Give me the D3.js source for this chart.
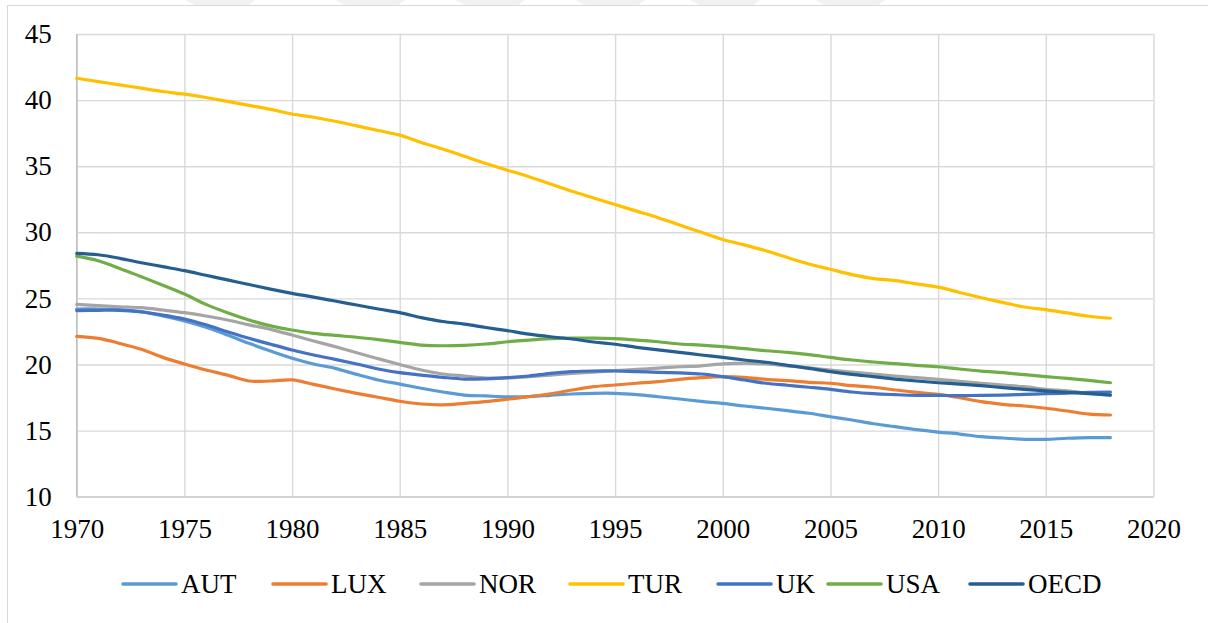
<!DOCTYPE html>
<html>
<head>
<meta charset="utf-8">
<script src="https://cdn.jsdelivr.net/npm/d3@7"></script>
<style>
  html, body { margin: 0; padding: 0; background: #fff; }
  svg { display: block; }
  svg text { font-family: "Times New Roman", "Liberation Serif", "DejaVu Serif", serif; }
</style>
</head>
<body>
<div id="chart"></div>
<script>
const years = [1970, 1971, 1972, 1973, 1974, 1975, 1976, 1977, 1978, 1979,
    1980, 1981, 1982, 1983, 1984, 1985, 1986, 1987, 1988, 1989,
    1990, 1991, 1992, 1993, 1994, 1995, 1996, 1997, 1998, 1999,
    2000, 2001, 2002, 2003, 2004, 2005, 2006, 2007, 2008, 2009,
    2010, 2011, 2012, 2013, 2014, 2015, 2016, 2017, 2018];

const xTicks = [1970, 1975, 1980, 1985, 1990, 1995, 2000, 2005, 2010, 2015, 2020];
const yTicks = [10, 15, 20, 25, 30, 35, 40, 45];

const AUT = [24.2, 24.2, 24.15, 24.0, 23.67, 23.29, 22.81, 22.23, 21.6, 21.02,
    20.47, 20.04, 19.71, 19.25, 18.83, 18.52, 18.2, 17.92, 17.69, 17.62,
    17.56, 17.58, 17.67, 17.77, 17.82, 17.82, 17.72, 17.56, 17.39, 17.21,
    17.06, 16.86, 16.69, 16.51, 16.31, 16.05, 15.8, 15.52, 15.3, 15.07,
    14.89, 14.74, 14.54, 14.44, 14.34, 14.34, 14.42, 14.47, 14.47];
const LUX = [22.13, 21.98, 21.6, 21.15, 20.54, 20.04, 19.58, 19.2, 18.75, 18.75,
    18.83, 18.5, 18.15, 17.82, 17.52, 17.22, 17.01, 16.95, 17.06, 17.19,
    17.37, 17.56, 17.79, 18.07, 18.32, 18.45, 18.58, 18.7, 18.88, 19.0,
    19.08, 19.03, 18.88, 18.78, 18.65, 18.58, 18.4, 18.28, 18.07, 17.9,
    17.74, 17.49, 17.19, 16.99, 16.86, 16.69, 16.48, 16.25, 16.18];
const NOR = [24.55, 24.45, 24.37, 24.3, 24.12, 23.92, 23.67, 23.37, 23.0, 22.66,
    22.23, 21.78, 21.35, 20.89, 20.44, 20.0, 19.58, 19.28, 19.13, 18.98,
    18.98, 19.08, 19.2, 19.33, 19.43, 19.53, 19.63, 19.73, 19.83, 19.9,
    20.04, 20.11, 20.04, 19.89, 19.75, 19.58, 19.43, 19.28, 19.13, 19.0,
    18.88, 18.73, 18.58, 18.45, 18.32, 18.12, 18.0, 17.82, 17.7];
const TUR = [41.65, 41.4, 41.15, 40.9, 40.65, 40.45, 40.2, 39.9, 39.6, 39.3,
    38.95, 38.7, 38.4, 38.05, 37.7, 37.35, 36.8, 36.3, 35.75, 35.2,
    34.7, 34.2, 33.65, 33.1, 32.6, 32.1, 31.6, 31.1, 30.55, 30.0,
    29.45, 29.05, 28.6, 28.1, 27.6, 27.2, 26.8, 26.5, 26.35, 26.1,
    25.85, 25.45, 25.05, 24.7, 24.35, 24.15, 23.9, 23.65, 23.5];
const UK = [24.08, 24.1, 24.1, 23.97, 23.74, 23.44, 23.0, 22.48, 21.98, 21.53,
    21.1, 20.72, 20.39, 20.04, 19.66, 19.38, 19.2, 19.03, 18.9, 18.92,
    19.0, 19.13, 19.33, 19.46, 19.51, 19.51, 19.46, 19.41, 19.36, 19.28,
    19.08, 18.83, 18.58, 18.43, 18.28, 18.12, 17.92, 17.79, 17.72, 17.67,
    17.67, 17.64, 17.67, 17.69, 17.74, 17.79, 17.84, 17.9, 17.92];
const USA = [28.2, 27.85, 27.27, 26.64, 26.0, 25.33, 24.55, 23.92, 23.37, 22.92,
    22.61, 22.36, 22.2, 22.06, 21.88, 21.68, 21.47, 21.42, 21.45, 21.55,
    21.72, 21.85, 21.95, 22.0, 22.0, 21.95, 21.85, 21.72, 21.55, 21.47,
    21.35, 21.2, 21.04, 20.92, 20.75, 20.54, 20.34, 20.19, 20.06, 19.94,
    19.83, 19.66, 19.5, 19.38, 19.23, 19.08, 18.95, 18.8, 18.62];
const OECD = [28.41, 28.3, 28.03, 27.7, 27.4, 27.1, 26.75, 26.4, 26.05, 25.7,
    25.38, 25.1, 24.8, 24.5, 24.2, 23.92, 23.55, 23.25, 23.06, 22.8,
    22.56, 22.3, 22.1, 21.93, 21.7, 21.53, 21.3, 21.1, 20.92, 20.72,
    20.54, 20.34, 20.17, 19.94, 19.71, 19.46, 19.25, 19.08, 18.9, 18.75,
    18.62, 18.52, 18.4, 18.25, 18.12, 18.0, 17.9, 17.8, 17.69];

const seriesNames = ['AUT', 'LUX', 'NOR', 'TUR', 'UK', 'USA', 'OECD'];
const seriesValues = [AUT, LUX, NOR, TUR, UK, USA, OECD];
const seriesColors = ['#5b9bd5', '#ed7d31', '#a5a5a5', '#ffc000', '#4472c4', '#70ad47', '#255e91'];

const width = 1208, height = 623;
const plotLeft = 76.7, plotRight = 1153.5, plotTop = 34, plotBottom = 496.7;
const fontFam = '"Times New Roman", "Liberation Serif", "DejaVu Serif", serif';

const svg = d3.select('#chart')
    .append('svg')
    .attr('width', width)
    .attr('height', height)
    .attr('font-family', fontFam);

/* faint watermark remains along the top edge */
const wm = svg.append('g').attr('fill', '#f1f1f1');
[185, 335, 455, 575, 690, 815].forEach(x0 => {
    wm.append('path').attr('d', `M${x0},0 L${x0 + 70},0 L${x0 + 62},6 L${x0 + 12},6 Z`);
});

/* outer chart frame */
svg.append('rect')
    .attr('x', 7.5).attr('y', 5.5)
    .attr('width', width + 20).attr('height', height + 20)
    .attr('fill', 'none')
    .attr('stroke', '#d9d9d9')
    .attr('stroke-width', 1);

const xScale = d3.scaleLinear().domain([1970, 2020]).range([plotLeft, plotRight]);
const yScale = d3.scaleLinear().domain([10, 45]).range([plotBottom, plotTop]);

/* gridlines */
svg.append('g')
    .attr('class', 'grid')
    .attr('transform', `translate(0,${plotBottom})`)
    .call(d3.axisBottom(xScale).tickValues(xTicks).tickSize(-(plotBottom - plotTop)).tickFormat(''))
    .call(g => g.select('.domain').remove())
    .call(g => g.selectAll('line').attr('stroke', '#d9d9d9').attr('stroke-width', 1.4));

svg.append('g')
    .attr('class', 'grid')
    .attr('transform', `translate(${plotLeft},0)`)
    .call(d3.axisLeft(yScale).tickValues(yTicks).tickSize(-(plotRight - plotLeft)).tickFormat(''))
    .call(g => g.select('.domain').remove())
    .call(g => g.selectAll('line').attr('stroke', '#d9d9d9').attr('stroke-width', 1.4));

/* axis lines */
svg.append('line')
    .attr('x1', plotLeft).attr('x2', plotLeft)
    .attr('y1', plotTop).attr('y2', plotBottom)
    .attr('stroke', '#bfbfbf').attr('stroke-width', 1.4);
svg.append('line')
    .attr('x1', plotLeft).attr('x2', plotRight)
    .attr('y1', plotBottom).attr('y2', plotBottom)
    .attr('stroke', '#d0d0d0').attr('stroke-width', 1.6);

/* tick labels */
svg.append('g')
    .attr('transform', `translate(0,${plotBottom})`)
    .call(d3.axisBottom(xScale).tickValues(xTicks).tickSize(0).tickPadding(22).tickFormat(d3.format('d')))
    .attr('font-family', fontFam)
    .attr('font-size', 27)
    .call(g => g.select('.domain').remove())
    .selectAll('text')
    .attr('fill', '#000');

svg.append('g')
    .attr('transform', `translate(${plotLeft},0)`)
    .call(d3.axisLeft(yScale).tickValues(yTicks).tickSize(0).tickPadding(25).tickFormat(d3.format('d')))
    .attr('font-family', fontFam)
    .attr('font-size', 27)
    .call(g => g.select('.domain').remove())
    .selectAll('text')
    .attr('fill', '#000');

/* series lines */
const line = d3.line()
    .x((d, i) => xScale(years[i]))
    .y(d => yScale(d))
    .curve(d3.curveCatmullRom.alpha(0.5));

seriesValues.forEach((vals, k) => {
    svg.append('path')
        .datum(vals)
        .attr('fill', 'none')
        .attr('stroke', seriesColors[k])
        .attr('stroke-width', 3.2)
        .attr('stroke-linecap', 'round')
        .attr('stroke-linejoin', 'round')
        .attr('d', line);
});

/* legend */
const legendX = [123, 273, 421, 570, 718, 828, 970];
const legend = svg.append('g').attr('transform', 'translate(0,584)');
seriesNames.forEach((name, k) => {
    legend.append('line')
        .attr('x1', legendX[k]).attr('x2', legendX[k] + 53)
        .attr('y1', 0).attr('y2', 0)
        .attr('stroke', seriesColors[k])
        .attr('stroke-width', 3.6)
        .attr('stroke-linecap', 'round');
    legend.append('text')
        .attr('x', legendX[k] + 58)
        .attr('y', 9)
        .attr('fill', '#000')
        .attr('font-size', 27)
        .text(name);
});
</script>
</body>
</html>
